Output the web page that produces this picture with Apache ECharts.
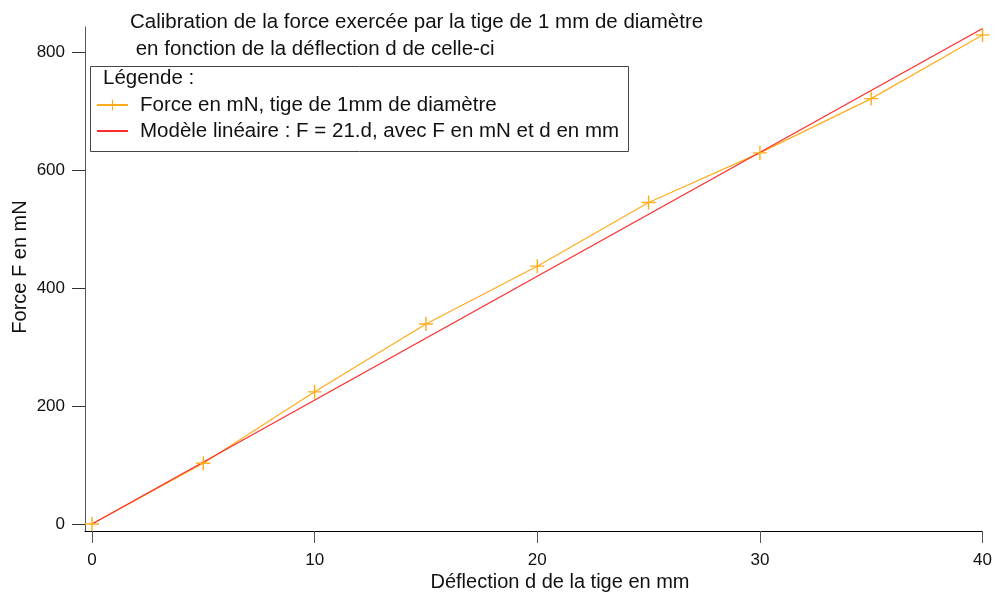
<!DOCTYPE html>
<html>
<head>
<meta charset="utf-8">
<script src="https://cdn.jsdelivr.net/npm/echarts@6/dist/echarts.min.js"></script>
<style>html,body{margin:0;padding:0;background:#fff}#c{width:995px;height:594px}</style>
</head>
<body>
<div id="c"></div>
<script>
const deflection = [0, 5, 10, 15, 20, 25, 30, 35, 40];
const force = [0, 103, 224, 339, 437, 545, 629, 721, 829];
const modelX = [0, 40];
const modelSlope = 21;
const xTicks = [0, 10, 20, 30, 40];
const yTicks = [0, 200, 400, 600, 800];
const titleLines = ['Calibration de la force exercée par la tige de 1 mm de diamètre', ' en fonction de la déflection d de celle-ci'];
const seriesNames = ['Force en mN, tige de 1mm de diamètre', 'Modèle linéaire : F = 21.d, avec F en mN et d en mm'];

const FONT = 'Liberation Sans, Arial, Helvetica, sans-serif';
const FS = 20.5;
const FT = 17;
const plus = 'path://M6.3,0h1.4v6.3h6.3v1.4h-6.3v6.3h-1.4v-6.3h-6.3v-1.4h6.3z';

const chart = echarts.init(document.getElementById('c'), null, {renderer: 'canvas'});
chart.setOption({
  animation: false,
  backgroundColor: '#fff',
  grid: {left: 85, right: 11, top: 27, bottom: 63, containLabel: false},
  xAxis: {
    type: 'value', min: -0.314, max: 40,
    axisLine: {show: true, onZero: false, lineStyle: {color: '#000', width: 1}},
    axisTick: {show: true, length: 12, inside: false, customValues: xTicks, lineStyle: {color: '#555'}},
    axisLabel: {customValues: xTicks, margin: 21, color: '#111', fontSize: FT, fontFamily: FONT},
    splitLine: {show: false}
  },
  yAxis: {
    type: 'value', min: -11.9, max: 842.4,
    axisLine: {show: true, onZero: false, lineStyle: {color: '#555', width: 1}},
    axisTick: {show: true, length: 13, inside: false, customValues: yTicks, lineStyle: {color: '#333'}},
    axisLabel: {customValues: yTicks, margin: 20, color: '#111', fontSize: FT, fontFamily: FONT},
    splitLine: {show: false}
  },
  legend: {
    orient: 'vertical', left: 96, top: 94.5,
    itemWidth: 31, itemHeight: 14, itemGap: 5, padding: 0,
    textStyle: {fontSize: FS, fontFamily: FONT, color: '#111', padding: [0, 0, 0, 7]},
    data: [
      {name: seriesNames[0]},
      {name: seriesNames[1], itemStyle: {opacity: 0}}
    ]
  },
  graphic: [
    {type: 'rect', shape: {x: 90.5, y: 66.5, width: 538, height: 85}, style: {fill: 'none', stroke: '#444', lineWidth: 1}, z: 0},
    {type: 'text', x: 103, y: 78, style: {text: 'Légende :', fontSize: FS, fontFamily: FONT, fill: '#111', verticalAlign: 'middle'}},
    {type: 'text', x: 130, y: 22.7, style: {text: titleLines[0], fontSize: FS, fontFamily: FONT, fill: '#111', verticalAlign: 'middle'}},
    {type: 'text', x: 130, y: 49, style: {text: titleLines[1], fontSize: FS, fontFamily: FONT, fill: '#111', verticalAlign: 'middle', whiteSpace: 'pre'}},
    {type: 'text', x: 20, y: 267, rotation: Math.PI / 2, style: {text: 'Force F en mN', fontSize: 20, fontFamily: FONT, fill: '#111', align: 'center', verticalAlign: 'middle'}},
    {type: 'text', x: 560, y: 582, style: {text: 'Déflection d de la tige en mm', fontSize: 20, fontFamily: FONT, fill: '#111', align: 'center', verticalAlign: 'middle'}}
  ],
  series: [
    {
      name: seriesNames[0], type: 'line',
      data: deflection.map((d, i) => [d, force[i]]),
      symbol: plus, symbolSize: 14, showSymbol: true,
      lineStyle: {color: '#ffac1c', width: 1.2},
      itemStyle: {color: '#ffac1c'}
    },
    {
      name: seriesNames[1], type: 'line',
      data: modelX.map(d => [d, modelSlope * d]),
      symbol: 'none', showSymbol: false,
      lineStyle: {color: '#ff2a2a', width: 1.2},
      itemStyle: {color: '#ff2a2a'}
    }
  ]
});
</script>
</body>
</html>
